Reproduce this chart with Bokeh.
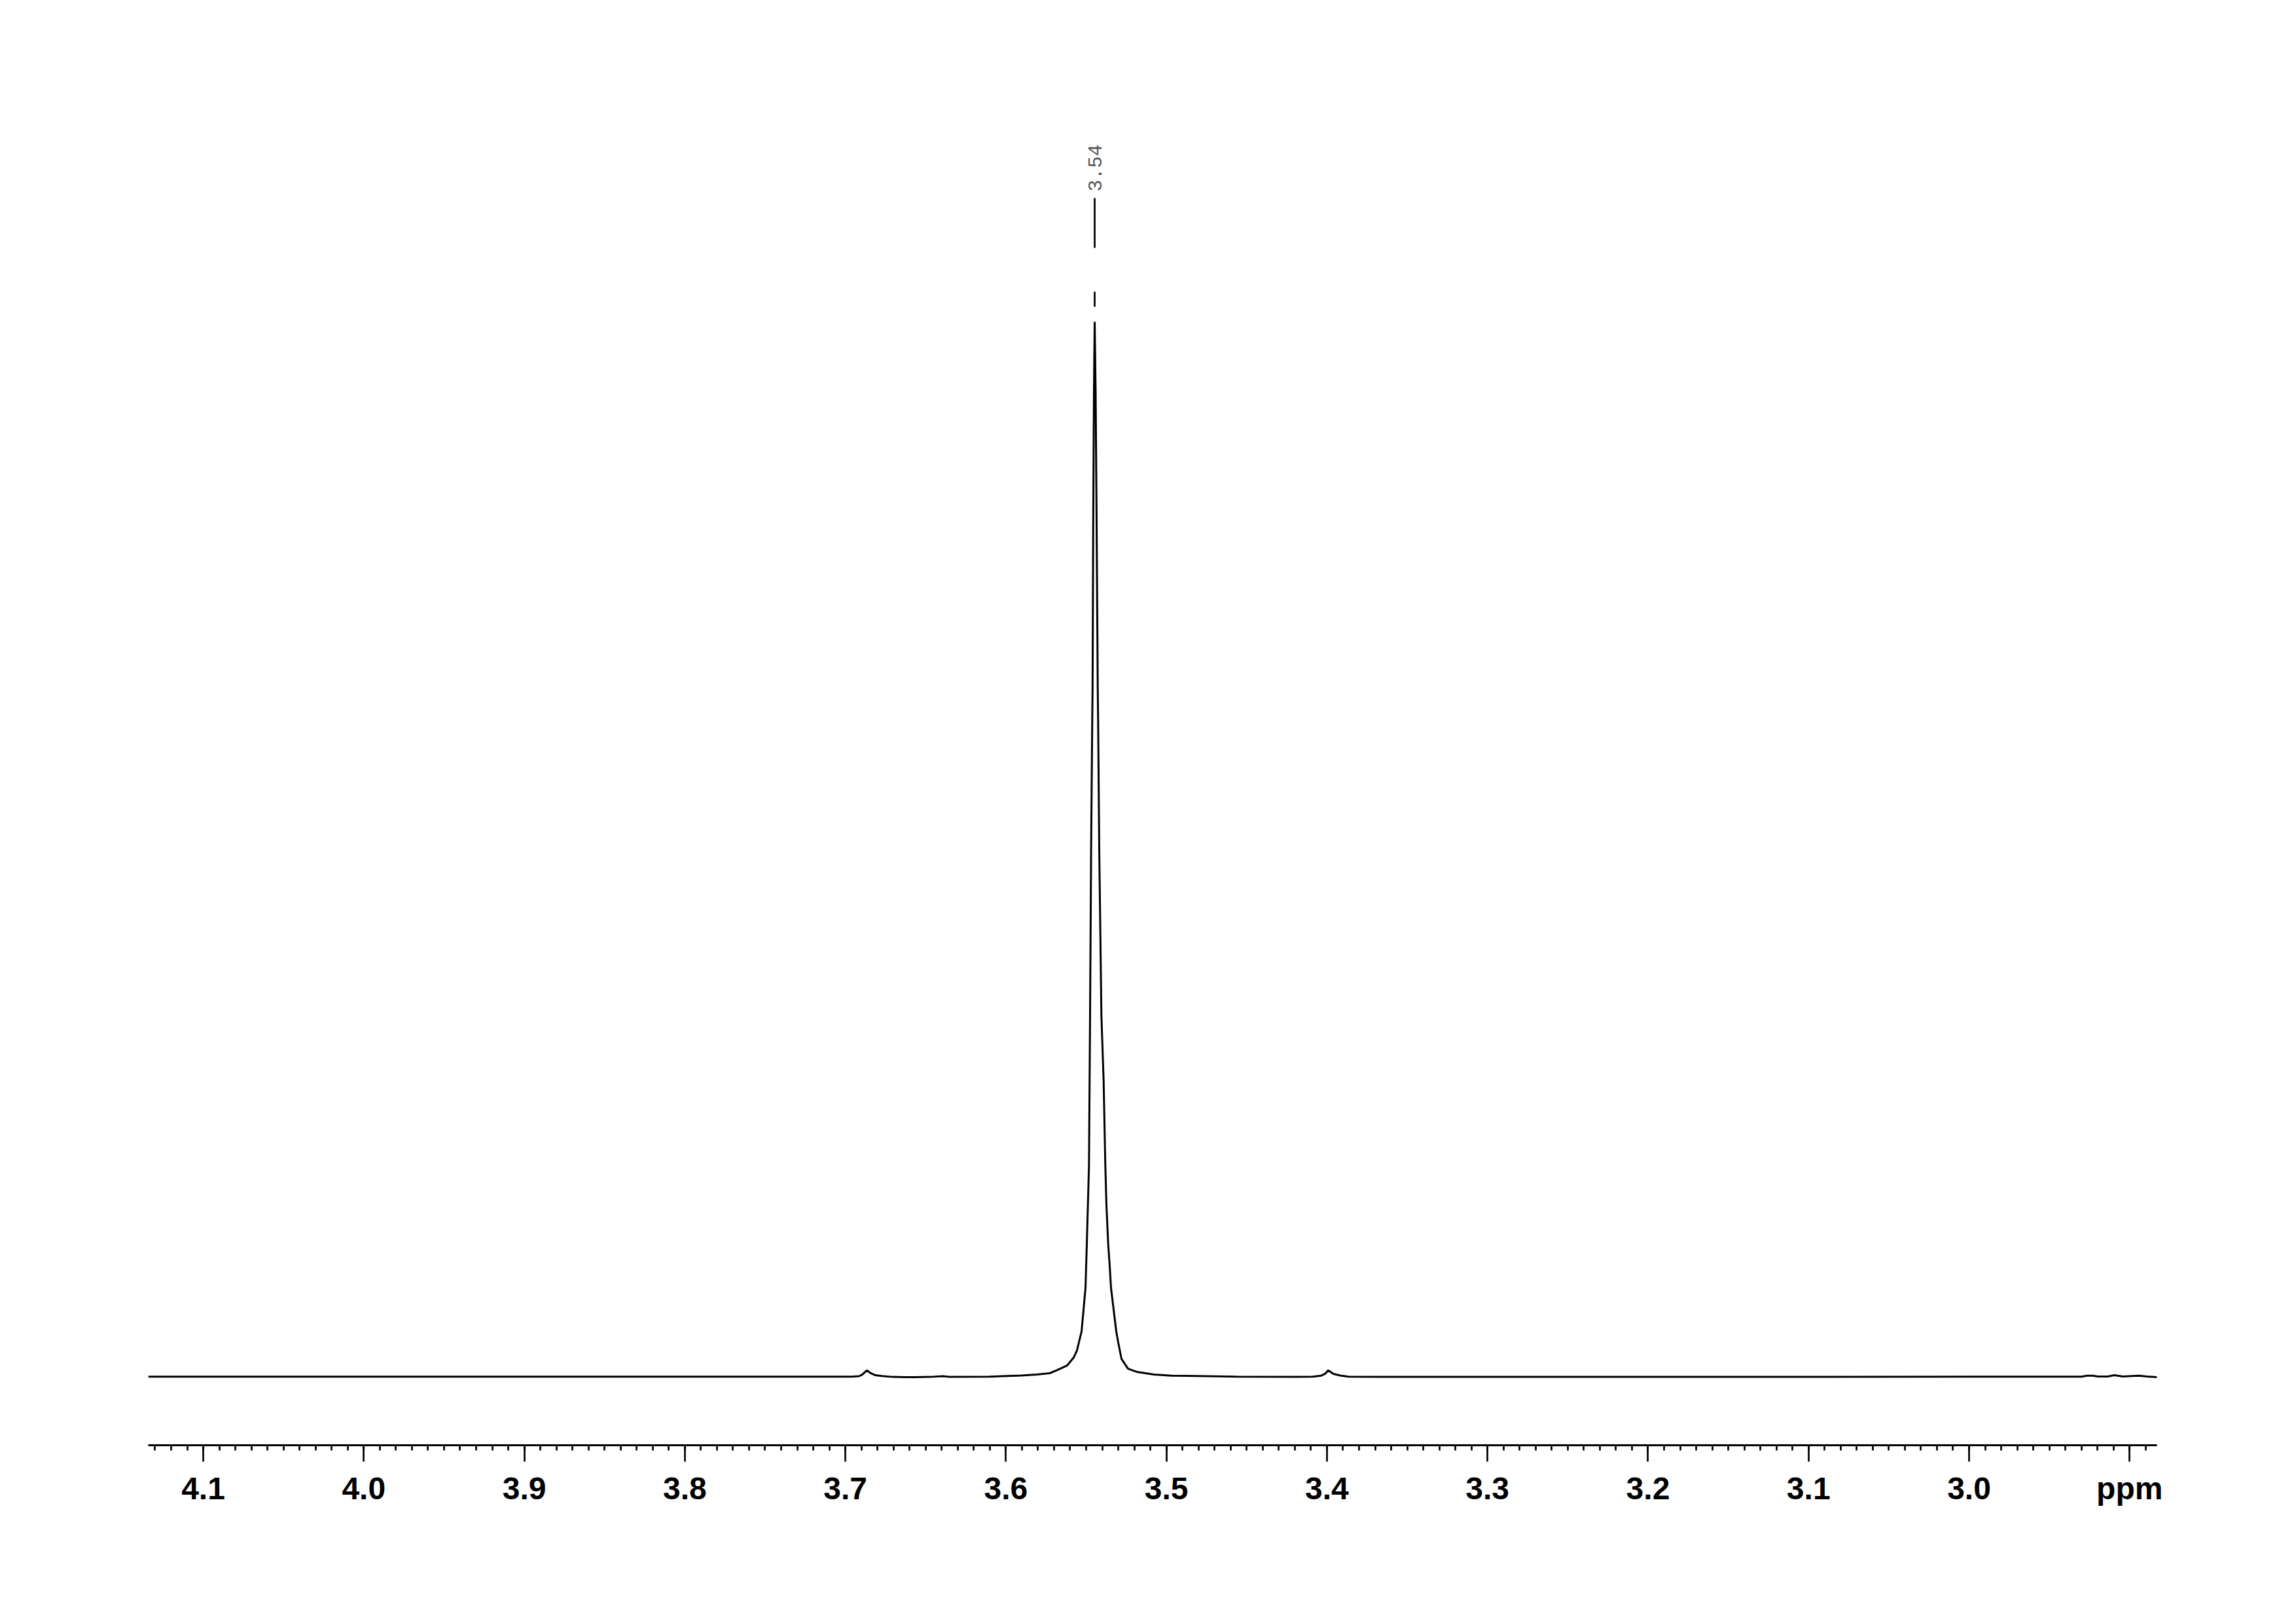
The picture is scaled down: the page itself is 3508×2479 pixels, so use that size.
import math
import numpy as np
from bokeh.plotting import figure
from bokeh.models import Range1d, FixedTicker
from bokeh.core.properties import value
from bokeh.embed import file_html
from bokeh.resources import INLINE

# ---- data (ppm, relative intensity in % of the main peak) ----
ppm = [4.13426, 3.90000, 3.70000, 3.69640, 3.69150, 3.68950, 3.68660, 3.68420, 3.68130,
       3.67720, 3.67070, 3.66250, 3.65680, 3.64750, 3.63930, 3.63520, 3.61070, 3.60260,
       3.59040, 3.58100, 3.57280, 3.56870, 3.56180, 3.55775, 3.55571, 3.55286, 3.55164,
       3.55041, 3.55000, 3.54960, 3.54891, 3.54825, 3.54785, 3.54756, 3.54691, 3.54621,
       3.54601, 3.54585, 3.54560, 3.54515, 3.54470, 3.54409, 3.54348, 3.54303, 3.54279,
       3.54255, 3.54185, 3.54051, 3.53982, 3.53912, 3.53806, 3.53737, 3.53627, 3.53533,
       3.53451, 3.53288, 3.53125, 3.53003, 3.52799, 3.52391, 3.51820, 3.51168, 3.50760,
       3.49660, 3.48722, 3.45583, 3.41913, 3.40890, 3.40360, 3.40120, 3.39920, 3.39590,
       3.39180, 3.38650, 3.37020, 3.20000, 3.00000, 2.92990, 2.92660, 2.92300, 2.91970,
       2.91360, 2.90950, 2.90420, 2.89440, 2.88910, 2.88299]
intensity = [0, 0, 0, 0, 0.05, 0.20, 0.60, 0.33, 0.14,
             0.06, -0.02, -0.04, -0.04, -0.02, 0.05, -0.01, 0, 0.05,
             0.11, 0.20, 0.33, 0.58, 1.07, 1.82, 2.50, 4.30, 6.35,
             8.40, 10.51, 12.56, 16.28, 20.00, 28.07, 34.28, 50.0, 62.20,
             65.31, 70.89, 80.82, 93.24, 100.0, 93.24, 80.82, 70.89, 65.31,
             62.20, 50.0, 34.28, 31.17, 28.07, 20.00, 16.28, 12.56, 10.51,
             8.40, 6.35, 4.30, 3.25, 1.69, 0.76, 0.45, 0.30, 0.20,
             0.10, 0.08, 0, -0.02, 0, 0.10, 0.27, 0.60, 0.27,
             0.11, 0, -0.02, -0.02, 0, 0, 0.10, 0.10, 0.02,
             0.02, 0.14, 0.02, 0.09, 0.02, -0.04]

peak_ppm = [3.5447]
peak_labels = ["3.54"]

tick_values = [4.1, 4.0, 3.9, 3.8, 3.7, 3.6, 3.5, 3.4, 3.3, 3.2, 3.1, 3.0, 2.9]
tick_labels = ["4.1", "4.0", "3.9", "3.8", "3.7", "3.6", "3.5", "3.4", "3.3", "3.2", "3.1", "3.0", "ppm"]

# ---- layout ----
W, H = 3500, 2470
left, top = 226, 100
right = W - 3295
bottom = H - 2207
frame_h = H - top - bottom
x_start, x_end = 4.13426, 2.88299
y_start, y_end = -6.498, 124.27
upx = (y_end - y_start) / frame_h  # data units per pixel

p = figure(width=W, height=H, output_backend="svg", toolbar_location=None,
           x_range=Range1d(x_start, x_end), y_range=Range1d(y_start, y_end),
           y_axis_location=None, min_border_left=left, min_border_right=right,
           min_border_top=top, min_border_bottom=bottom)
p.outline_line_color = None
p.xgrid.visible = False
p.ygrid.visible = False
p.background_fill_color = "white"
p.border_fill_color = "white"

p.line(ppm, intensity, line_color="black", line_width=3)

# peak marker
mk = max(intensity)
for xp, lab in zip(peak_ppm, peak_labels):
    p.segment(x0=[xp], y0=[mk + 113 * upx], x1=[xp], y1=[mk + 189 * upx],
              line_color="black", line_width=2.7)
    p.segment(x0=[xp], y0=[mk + 23 * upx], x1=[xp], y1=[mk + 46 * upx],
              line_color="black", line_width=2.7)
    p.text(x=[xp], y=[mk + 199 * upx], text=[lab], angle=math.pi / 2,
           text_align="left", text_baseline="middle",
           text_font=value("Liberation Mono"), text_font_size="30px",
           text_color="#555555")

ax = p.xaxis[0]
minor = [round(v, 2) for v in np.arange(2.89, 4.135, 0.01)]
ax.ticker = FixedTicker(ticks=tick_values, minor_ticks=minor)
ax.major_label_overrides = {v: l for v, l in zip(tick_values, tick_labels)}
ax.axis_line_width = 3
ax.axis_line_color = "black"
ax.major_tick_line_width = 2.7
ax.minor_tick_line_width = 2.7
ax.major_tick_out = 25
ax.major_tick_in = 0
ax.minor_tick_out = 8
ax.minor_tick_in = 0
ax.major_label_standoff = 14
ax.major_label_text_font = "Liberation Sans"
ax.major_label_text_font_style = "bold"
ax.major_label_text_font_size = "48px"
ax.major_label_text_color = "black"

open("out.html", "w").write(file_html(p, INLINE))
